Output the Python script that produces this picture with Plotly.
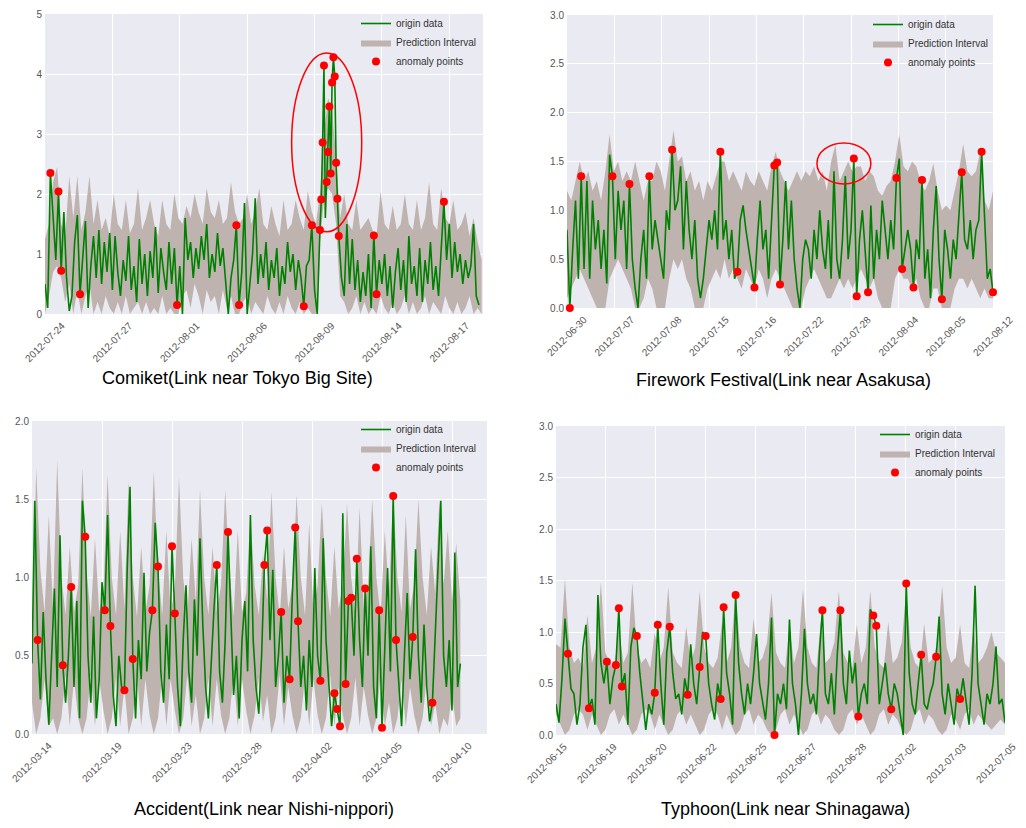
import plotly.graph_objects as go

# ---------------- Panel 1: Comiket ----------------
p1_x = list(range(0, 408, 4)) + list(range(408, 438, 2)) + list(range(440, 648, 4))
p1_y = [
    0.5, 0.1, 2.35, 1.6, 0.9, 2.04, 0.72, 1.7, 0.6, 0.05, 0.3,
    1.2, 1.65, 0.33, 1.0, 1.55, 0.1, 0.8, 1.3, 0.6, 1.4, 0.5, 1.2, 0.7, 1.35, 0.4,
    1.3, 0.7, 0.3, 0.9, 0.55, 1.3, 0.4, 0.8, 0.2, 1.25, 0.5, 1.0, 0.3, 1.05, 0.6, 1.45, 0.35, 1.1, 0.7, 0.4, 1.2, 0.5, 1.1, 0.15, 0.8,
    0.0, 1.6, 0.9, 1.2, 0.6, 1.1, 0.75, 1.3, 0.9, 1.5, 0.6, 1.0, 0.7, 1.35, 0.8, 1.1, 0.5, 0.0, 0.6, 0.9,
    1.48, 0.15, 0.7, 1.85, 0.0, 0.5, 1.0, 1.93,
    0.5, 1.0, 0.6, 1.2, 0.4, 0.9, 0.6, 1.1, 0.3, 0.8, 0.5, 1.2, 0.7, 1.0, 0.4, 0.9, 0.6,
    0.13, 0.8, 0.9, 1.48, 0.4, 0.0,
    1.40, 1.91, 2.86, 4.14, 1.6, 2.2, 2.70, 3.46, 2.34, 3.86, 4.28, 3.96, 2.52, 1.92, 1.30,
    0.6, 0.3, 1.5, 0.5, 1.25, 0.4, 0.9, 0.2, 0.7, 0.3,
    1.0, 0.1, 1.31, 0.33, 0.9, 0.5, 1.0, 0.3, 0.8, 0.1,
    0.7, 1.1, 0.4, 0.9, 0.2, 1.3, 0.5, 0.8, 0.3, 1.1,
    0.2, 0.9, 0.5, 1.2, 0.4, 0.8, 0.3, 1.1, 1.87, 0.9,
    1.5, 0.6, 1.2, 0.7, 1.0, 0.5, 0.9, 0.6, 0.8, 1.5,
    0.3, 0.15,
]
p1_band_x = list(range(0, 649, 6))
p1_upper = [
    1.25, 1.5, 2.2, 2.45, 1.5, 1.3, 2.3, 1.6, 2.3, 1.4, 1.7, 2.3, 1.5, 1.9,
    1.4, 1.6, 1.3, 2.0, 1.5, 1.4, 1.9, 1.35, 1.5, 2.1, 1.4, 1.6, 1.9, 1.5, 1.3, 1.9, 1.5, 1.4, 2.0,
    1.6, 1.5, 1.8, 1.6, 2.0, 1.7, 1.5, 2.1, 1.7, 1.6, 1.9, 1.5, 1.6, 2.2, 1.7,
    1.5, 1.6, 2.0, 1.5, 1.7, 2.1, 1.5, 1.4, 1.8, 1.5, 1.3, 1.9, 1.4, 1.5, 1.9, 1.6, 1.4, 2.05, 1.7, 1.5,
    2.0, 3.0, 3.6, 3.4, 2.6, 1.6,
    2.0, 1.5, 1.4, 1.9, 1.4, 1.5, 1.6, 1.4, 1.3, 2.05, 1.5, 1.4, 1.8, 1.4, 1.5, 2.0, 1.5, 1.4, 1.9, 1.4,
    1.6, 2.2, 1.5, 1.4, 2.1, 1.6, 1.5, 1.9, 1.4, 1.5, 1.7, 1.3, 1.6, 1.2, 0.9,
]
p1_lower = [
    0.0, 0.3, 0.7, 0.8, 0.6, 0.2, 0.5, 0.0, 0.4, 0.0, 0.3, 0.5, 0.0, 0.2,
    0.0, 0.3, 0.1, 0.0, 0.2, 0.0, 0.3, 0.0, 0.1, 0.2, 0.0, 0.2, 0.0, 0.1, 0.0, 0.3, 0.0, 0.1, 0.0,
    0.0, 0.3, 0.4, 0.1, 0.5, 0.3, 0.0, 0.4, 0.2, 0.3, 0.0, 0.4, 0.1, 0.3, 0.0,
    0.0, 0.2, 0.3, 0.0, 0.2, 0.1, 0.0, 0.3, 0.1, 0.0, 0.2, 0.0, 0.3, 0.1, 0.0, 0.2, 0.0, 0.1, 0.0, 0.0,
    1.2, 1.9, 2.1, 2.0, 1.5, 0.3,
    0.2, 0.0, 0.1, 0.3, 0.0, 0.2, 0.0, 0.1, 0.0, 0.3, 0.1, 0.0, 0.2, 0.0, 0.1, 0.3, 0.0, 0.2, 0.0, 0.1,
    0.3, 0.0, 0.2, 0.1, 0.0, 0.3, 0.1, 0.0, 0.2, 0.0, 0.1, 0.3, 0.0, 0.1, 0.0,
]
p1_anom_x = [8, 20, 24, 52, 196, 284, 288, 384, 396, 408, 410, 412, 414, 418, 420, 422, 424,
             426, 428, 430, 432, 434, 436, 488, 492, 592]
p1_anom_y = [2.35, 2.04, 0.72, 0.33, 0.15, 1.48, 0.15, 0.13, 1.48, 1.40, 1.91, 2.86, 4.14, 2.2,
             2.70, 3.46, 2.34, 3.86, 4.28, 3.96, 2.52, 1.92, 1.30, 1.31, 0.33, 1.87]
p1_ticks = ['2012-07-24', '2012-07-27', '2012-08-01', '2012-08-06', '2012-08-09',
            '2012-08-14', '2012-08-17']
p1_title = 'Comiket(Link near Tokyo Big Site)'

# ---------------- Panel 2: Firework Festival ----------------
p2_x = list(range(0, 901, 6))
p2_y = [
    0.8, 0.0, 0.6, 1.1, 0.3, 1.35, 0.4, 1.3, 0.3, 1.1, 0.6, 0.9, 0.4, 0.8, 0.25, 1.57,
    1.35, 0.5, 1.2, 0.8, 1.1, 0.4, 1.27, 0.5, 0.2, 0.0, 0.5, 0.8, 0.3, 1.35,
    0.6, 0.9, 0.7, 0.5, 0.3, 1.0, 0.8, 1.62, 1.0, 1.1, 1.45, 0.6, 1.3, 0.8, 0.5, 0.9, 0.3, 0.1,
    0.3, 0.6, 0.9, 0.7, 1.0, 0.6, 1.60, 0.7, 0.9, 0.5, 0.8, 0.3, 0.37, 0.9, 1.05,
    0.8, 0.6, 0.4, 0.21, 0.7, 1.1, 0.6, 0.8, 0.3, 0.9, 1.46, 1.49, 0.24, 0.7, 1.3, 0.6, 1.1, 0.5, 0.2, 0.0,
    0.5, 0.7, 0.6, 0.3, 0.8, 0.5, 1.0, 0.6, 0.4, 0.9, 0.3, 1.4, 0.5, 0.3, 0.7,
    1.35, 0.5, 0.8, 1.53, 0.12, 0.7, 1.0, 0.6, 0.16, 1.05, 0.3, 0.8,
    0.5, 1.1, 0.8, 0.5, 0.9, 0.6, 1.33, 1.53, 0.40, 0.6, 0.8, 0.6, 0.21, 0.7, 0.5, 1.31, 0.3,
    0.6, 0.1, 0.8, 1.25, 0.5, 0.09, 0.8, 0.6, 0.3, 0.7, 0.5, 0.9, 1.39, 0.7, 0.6, 0.9, 0.5, 0.8,
    0.9, 1.6, 0.9, 0.3, 0.4, 0.16,
]
p2_band_x = list(range(0, 901, 9))
p2_upper = [
    1.2, 1.1, 1.3, 1.5, 1.3, 1.4, 1.2, 1.3, 1.1, 1.4,
    1.78, 1.4, 1.5, 1.3, 1.4, 1.3, 1.5, 1.3, 1.1, 1.3,
    1.3, 1.5, 1.4, 1.2, 1.5, 1.82, 1.5, 1.55, 1.3, 1.4,
    1.2, 1.3, 1.1, 1.3, 1.2, 1.35, 1.5, 1.5, 1.3, 1.4,
    1.3, 1.2, 1.4, 1.3, 1.25, 1.4, 1.3, 1.2, 1.45, 1.6,
    1.4, 1.3, 1.2, 1.3, 1.4, 1.3, 1.4, 1.35, 1.45, 1.3,
    1.4, 1.2, 1.5, 1.67, 1.3, 1.4, 1.5, 1.4, 1.45, 1.45,
    1.3, 1.4, 1.35, 1.2, 1.15, 1.25, 1.3, 1.5, 1.78, 1.45,
    1.4, 1.5, 1.45, 1.3, 1.2, 1.3, 1.48, 1.2, 1.0, 1.05,
    1.0, 1.2, 1.4, 1.68, 1.4, 1.35, 1.4, 1.6, 1.1, 1.0, 1.2,
]
p2_lower = [
    0.1, 0.2, 0.3, 0.4, 0.3, 0.2, 0.1, 0.0, 0.0, 0.0,
    0.3, 0.4, 0.5, 0.4, 0.3, 0.2, 0.0, 0.0, 0.1, 0.3,
    0.2, 0.0, 0.0, 0.0, 0.3, 0.5, 0.4, 0.5, 0.3, 0.2,
    0.0, 0.0, 0.0, 0.2, 0.3, 0.4, 0.3, 0.5, 0.3, 0.4,
    0.3, 0.2, 0.4, 0.3, 0.2, 0.4, 0.3, 0.1, 0.3, 0.4,
    0.3, 0.2, 0.1, 0.0, 0.0, 0.0, 0.2, 0.3, 0.4, 0.3,
    0.2, 0.1, 0.1, 0.2, 0.3, 0.2, 0.3, 0.2, 0.3, 0.4,
    0.3, 0.2, 0.3, 0.1, 0.0, 0.0, 0.0, 0.3, 0.4, 0.3,
    0.3, 0.2, 0.3, 0.1, 0.0, 0.0, 0.2, 0.2, 0.0, 0.0,
    0.0, 0.2, 0.3, 0.3, 0.2, 0.3, 0.2, 0.1, 0.2, 0.1, 0.1,
]
p2_anom_x = [6, 30, 96, 132, 174, 222, 324, 360, 396, 438, 444, 450, 606, 612, 636, 696,
             708, 732, 750, 792, 834, 876, 900]
p2_anom_y = [0.0, 1.35, 1.35, 1.27, 1.35, 1.62, 1.60, 0.37, 0.21, 1.46, 1.49, 0.24, 1.53,
             0.12, 0.16, 1.33, 0.40, 0.21, 1.31, 0.09, 1.39, 1.6, 0.16]
p2_ticks = ['2012-06-30', '2012-07-07', '2012-07-08', '2012-07-15', '2012-07-16',
            '2012-07-22', '2012-07-28', '2012-08-04', '2012-08-05', '2012-08-12']
p2_title = 'Firework Festival(Link near Asakusa)'

# ---------------- Panel 3: Accident ----------------
p3_x = list(range(0, 613, 4))
p3_y = [
    0.45, 1.49, 0.60, 0.22, 0.78, 0.35, 0.06, 0.55, 0.93, 0.30,
    1.27, 0.44, 0.2, 0.5, 0.94, 0.3, 0.85, 0.1, 1.49, 1.26,
    0.5, 0.2, 0.75, 0.1, 0.35, 0.97, 0.79, 1.40, 0.69, 0.25,
    0.05, 0.5, 0.3, 0.28, 1.05, 1.58, 0.48, 0.1, 0.6, 0.35,
    1.03, 0.4, 0.65, 0.79, 1.35, 1.07, 0.4, 0.2, 0.7, 0.35,
    1.20, 0.77, 0.3, 0.05, 0.6, 0.95, 0.4, 0.2, 0.86, 0.5,
    1.25, 0.7, 0.3, 0.1, 0.5, 0.8, 1.08, 0.4, 0.2, 0.6,
    1.29, 0.7, 0.25, 0.5, 0.1, 0.6, 0.85, 0.4, 1.40, 0.6,
    0.3, 0.13, 0.5, 1.08, 1.30, 0.6, 1.05, 0.3, 0.5, 0.78,
    0.2, 0.5, 0.35, 0.9, 1.32, 0.72, 0.3, 0.5, 0.15, 0.6,
    0.3, 1.06, 0.5, 0.34, 1.25, 0.6, 0.3, 0.05, 0.26, 0.16,
    0.05, 1.41, 0.32, 0.85, 0.87, 0.5, 1.12, 0.6, 0.3, 0.93,
    0.5, 1.20, 0.3, 0.1, 0.79, 0.04, 0.6, 1.06, 0.4, 1.52,
    0.6, 0.3, 0.05, 0.5, 0.9, 0.35, 0.62, 1.18, 0.5, 0.2,
    0.7, 0.3, 0.08, 0.20, 0.6, 1.1, 1.49, 0.5, 0.3, 0.6,
    0.15, 1.16, 0.3, 0.45,
]
p3_band_x = list(range(0, 613, 6))
p3_upper = [
    0.60, 1.70, 1.05, 0.78, 1.40, 0.80, 1.75, 1.00, 0.76, 1.20,
    0.78, 0.95, 1.70, 1.05, 0.75, 1.25, 0.78, 0.90, 1.66, 1.00,
    0.76, 1.30, 0.80, 1.62, 1.00, 0.75, 1.20, 0.78, 0.95, 1.68,
    1.05, 0.76, 1.30, 0.78, 0.92, 1.64, 1.00, 0.75, 1.25, 0.85,
    1.56, 1.00, 0.76, 1.20, 0.78, 0.95, 1.56, 1.05, 0.75, 1.30,
    0.78, 0.90, 1.40, 0.95, 0.76, 1.15, 0.85, 1.55, 1.00, 0.75,
    1.20, 0.80, 0.95, 1.53, 1.00, 0.76, 1.35, 0.78, 0.95, 1.48,
    1.00, 0.75, 1.20, 0.80, 0.95, 1.47, 1.00, 0.76, 1.45, 0.80,
    0.95, 1.50, 1.00, 0.75, 1.30, 0.90, 1.53, 1.00, 0.78, 1.40,
    0.80, 0.95, 1.50, 1.00, 0.76, 1.20, 0.90, 1.50, 0.95, 1.30,
    0.85, 1.22, 0.85,
]
p3_lower = [
    0.20, 0.00, 0.10, 0.35, 0.05, 0.10, 0.00, 0.10, 0.38, 0.05,
    0.35, 0.10, 0.00, 0.10, 0.38, 0.05, 0.35, 0.15, 0.00, 0.10,
    0.36, 0.05, 0.30, 0.00, 0.10, 0.38, 0.05, 0.35, 0.12, 0.00,
    0.10, 0.37, 0.05, 0.35, 0.15, 0.00, 0.10, 0.38, 0.05, 0.25,
    0.00, 0.10, 0.36, 0.05, 0.35, 0.12, 0.00, 0.10, 0.38, 0.05,
    0.35, 0.15, 0.00, 0.12, 0.36, 0.08, 0.25, 0.00, 0.10, 0.38,
    0.05, 0.30, 0.12, 0.00, 0.10, 0.36, 0.05, 0.35, 0.12, 0.00,
    0.10, 0.38, 0.05, 0.30, 0.12, 0.00, 0.10, 0.36, 0.05, 0.30,
    0.12, 0.00, 0.10, 0.38, 0.05, 0.20, 0.00, 0.10, 0.35, 0.05,
    0.30, 0.12, 0.00, 0.10, 0.36, 0.05, 0.20, 0.00, 0.10, 0.05,
    0.25, 0.05, 0.10,
]
p3_anom_x = [8, 44, 56, 76, 104, 112, 132, 144, 172, 180, 200, 204, 264, 280, 332, 336, 356,
             368, 376, 380, 412, 432, 436, 440, 448, 452, 456, 464, 476, 496, 500, 516, 520,
             544, 572]
p3_anom_y = [0.60, 0.44, 0.94, 1.26, 0.79, 0.69, 0.28, 0.48, 0.79, 1.07, 1.20, 0.77, 1.08,
             1.29, 1.08, 1.30, 0.78, 0.35, 1.32, 0.72, 0.34, 0.26, 0.16, 0.05, 0.32, 0.85,
             0.87, 1.12, 0.93, 0.79, 0.04, 1.52, 0.60, 0.62, 0.20]
p3_ticks = ['2012-03-14', '2012-03-19', '2012-03-23', '2012-03-28', '2012-04-02',
            '2012-04-05', '2012-04-10']
p3_title = 'Accident(Link near Nishi-nippori)'

# ---------------- Panel 4: Typhoon ----------------
p4_x = list(range(0, 901, 6))
p4_y = [
    0.30, 0.12, 0.55, 1.13, 0.79, 0.45, 0.40, 0.10, 0.30, 0.85,
    1.07, 0.26, 0.35, 0.10, 1.36, 0.70, 0.50, 0.71, 0.30, 0.55,
    0.68, 1.23, 0.47, 0.60, 0.10, 0.85, 1.04, 0.96, 0.60, 0.35,
    0.05, 0.30, 0.20, 0.41, 1.07, 0.50, 0.10, 0.80, 1.05, 0.60,
    0.35, 0.40, 0.20, 0.55, 0.39, 0.88, 0.50, 0.30, 0.66, 1.00,
    0.96, 0.50, 0.30, 0.15, 0.50, 0.35, 1.24, 0.60, 0.40, 0.10,
    1.36, 0.70, 0.40, 0.20, 0.50, 0.30, 0.60, 0.98, 0.50, 0.30,
    0.15, 0.50, 1.14, 0.00, 0.40, 0.30, 0.50, 0.25, 1.12, 0.50,
    0.30, 0.00, 0.40, 1.03, 0.50, 0.30, 0.40, 0.20, 0.80, 1.21,
    0.40, 0.30, 0.60, 0.20, 0.80, 1.21, 0.50, 0.30, 0.82, 0.50,
    0.70, 0.18, 0.40, 0.50, 0.30, 1.22, 1.16, 1.06, 0.30, 0.50,
    0.70, 0.40, 0.25, 0.50, 0.40, 0.20, 0.00, 1.47, 0.60, 0.30,
    0.20, 0.50, 0.78, 0.30, 0.25, 0.40, 0.50, 0.76, 1.15, 0.40,
    0.20, 0.50, 0.30, 0.10, 0.45, 0.35, 0.55, 0.30, 0.10, 0.60,
    1.45, 0.50, 0.30, 0.10, 0.40, 0.30, 0.50, 0.86, 0.30, 0.35,
    0.12,
]
p4_band_x = list(range(0, 901, 9))
p4_upper = [
    0.88, 0.85, 1.52, 0.85, 0.70, 0.75, 0.65, 1.17, 0.70, 0.85,
    1.48, 0.80, 0.70, 0.65, 1.05, 0.70, 0.80, 1.48, 0.85, 0.70,
    0.75, 0.65, 1.00, 0.70, 0.85, 1.44, 0.80, 0.70, 0.65, 1.05,
    0.70, 0.85, 1.40, 0.85, 0.70, 0.65, 0.75, 1.10, 0.70, 0.85,
    1.38, 0.85, 0.70, 0.65, 1.13, 0.70, 0.75, 0.90, 1.38, 0.80,
    0.70, 0.65, 1.05, 0.70, 0.85, 1.42, 0.85, 0.70, 0.65, 1.10,
    0.70, 0.75, 0.90, 1.40, 0.80, 0.70, 0.65, 1.07, 0.70, 0.85,
    1.40, 0.85, 0.70, 0.65, 1.10, 0.70, 0.75, 0.90, 1.40, 0.85,
    0.70, 0.65, 1.08, 0.70, 0.75, 0.90, 1.45, 0.85, 0.70, 0.75,
    1.07, 0.70, 0.65, 1.05, 0.70, 0.75, 0.85, 1.00, 0.80, 0.75,
    0.70,
]
p4_lower = [
    0.20, 0.10, 0.00, 0.05, 0.20, 0.25, 0.20, 0.05, 0.20, 0.10,
    0.00, 0.05, 0.20, 0.25, 0.10, 0.20, 0.10, 0.00, 0.05, 0.20,
    0.25, 0.20, 0.05, 0.20, 0.10, 0.00, 0.05, 0.20, 0.25, 0.10,
    0.20, 0.10, 0.00, 0.05, 0.20, 0.25, 0.20, 0.05, 0.20, 0.10,
    0.00, 0.05, 0.20, 0.25, 0.10, 0.20, 0.15, 0.05, 0.00, 0.05,
    0.20, 0.25, 0.10, 0.20, 0.10, 0.00, 0.05, 0.20, 0.25, 0.10,
    0.20, 0.15, 0.05, 0.00, 0.05, 0.20, 0.25, 0.10, 0.20, 0.10,
    0.00, 0.05, 0.20, 0.25, 0.10, 0.20, 0.15, 0.05, 0.00, 0.05,
    0.20, 0.25, 0.10, 0.20, 0.15, 0.05, 0.00, 0.05, 0.20, 0.15,
    0.05, 0.20, 0.25, 0.10, 0.20, 0.15, 0.10, 0.05, 0.10, 0.15,
    0.10,
]
p4_anom_x = [24, 66, 102, 120, 126, 132, 162, 198, 204, 228, 264, 288, 300, 330, 336, 360,
             438, 534, 570, 606, 636, 642, 672, 702, 732, 762, 810]
p4_anom_y = [0.79, 0.26, 0.71, 0.68, 1.23, 0.47, 0.96, 0.41, 1.07, 1.05, 0.39, 0.66, 0.96,
             0.35, 1.24, 1.36, 0.0, 1.21, 1.21, 0.18, 1.16, 1.06, 0.25, 1.47, 0.78, 0.76, 0.35]
p4_ticks = ['2012-06-15', '2012-06-19', '2012-06-20', '2012-06-22', '2012-06-25',
            '2012-06-27', '2012-06-28', '2012-07-02', '2012-07-03', '2012-07-05']
p4_title = 'Typhoon(Link near Shinagawa)'

# ---------------- styling / layout ----------------
# The page body has an 8px default margin, so the figure is drawn 8px in from
# the window corner; positions below are given in window pixels.
OFF = 8
W, H = 1026 - 2 * OFF, 828 - 2 * OFF
BG = '#EAEAF2'
BAND = '#bfb3b0'
GREEN = '#008000'
FONT = 'Liberation Sans, Arial, sans-serif'


def fx(px):
    return (px - OFF) / W


def fy(py):
    return 1 - (py - OFF) / H


panels = [
    dict(x=p1_x, y=p1_y, bx=p1_band_x, lo=p1_lower, hi=p1_upper, ax=p1_anom_x, ay=p1_anom_y,
         ticks=p1_ticks, title=p1_title, xr=[0, 650], yr=[0, 5], dy=1, shift=17,
         px=(45, 483), py=(14, 314), title_xy=(237, 378), leg_xy=(356, 9),
         ellipse=(366, 470, 1.37, 4.35)),
    dict(x=p2_x, y=p2_y, bx=p2_band_x, lo=p2_lower, hi=p2_upper, ax=p2_anom_x, ay=p2_anom_y,
         ticks=p2_ticks, title=p2_title, xr=[0, 900], yr=[0, 3], dy=0.5, shift=17,
         px=(567, 993), py=(15, 308), title_xy=(783, 380), leg_xy=(868, 10),
         ellipse=(528, 642, 1.27, 1.69)),
    dict(x=p3_x, y=p3_y, bx=p3_band_x, lo=p3_lower, hi=p3_upper, ax=p3_anom_x, ay=p3_anom_y,
         ticks=p3_ticks, title=p3_title, xr=[0, 650], yr=[0, 2], dy=0.5, shift=17,
         px=(32, 487), py=(421, 734), title_xy=(264, 809), leg_xy=(356, 415),
         ellipse=None),
    dict(x=p4_x, y=p4_y, bx=p4_band_x, lo=p4_lower, hi=p4_upper, ax=p4_anom_x, ay=p4_anom_y,
         ticks=p4_ticks, title=p4_title, xr=[0, 900], yr=[0, 3], dy=0.5, shift=8,
         px=(556, 1005), py=(426, 735), title_xy=(785, 809), leg_xy=(875, 420),
         ellipse=None),
]

fig = go.Figure()
layout = dict(
    width=W, height=H, autosize=False,
    margin=dict(l=0, r=0, t=0, b=0, pad=0, autoexpand=False),
    paper_bgcolor='white', plot_bgcolor=BG,
    font=dict(family=FONT, color='#555555'),
    showlegend=True,
    annotations=[], shapes=[],
)

for i, p in enumerate(panels):
    n = '' if i == 0 else str(i + 1)
    xa, ya = 'x' + n, 'y' + n
    leg = 'legend' + n
    # prediction interval polygon
    fig.add_trace(go.Scatter(
        x=p['bx'] + p['bx'][::-1], y=p['hi'] + p['lo'][::-1],
        fill='toself', fillcolor=BAND, line=dict(width=0, color=BAND),
        mode='lines', name='Prediction Interval', xaxis=xa, yaxis=ya,
        legend=leg, legendrank=2, hoverinfo='skip'))
    fig.add_trace(go.Scatter(
        x=p['x'], y=p['y'], mode='lines', line=dict(color=GREEN, width=1.6),
        name='origin data', xaxis=xa, yaxis=ya, legend=leg, legendrank=1))
    fig.add_trace(go.Scatter(
        x=p['ax'], y=p['ay'], mode='markers', marker=dict(color='red', size=8),
        name='anomaly points', xaxis=xa, yaxis=ya, legend=leg, legendrank=3,
        cliponaxis=False))

    x0, x1 = p['px']
    y0, y1 = p['py']
    nt = len(p['ticks'])
    step = 100
    yt = []
    v = 0.0
    while v <= p['yr'][1] + 1e-9:
        yt.append(round(v, 2))
        v += p['dy']
    ytext = [str(int(t)) if p['dy'] == 1 else f'{t:.1f}' for t in yt]

    layout['xaxis' + n] = dict(
        domain=[fx(x0), fx(x1)], anchor=ya, range=p['xr'], automargin=False,
        tickmode='array', tickvals=[k * step for k in range(nt)], ticktext=p['ticks'],
        tickangle=-45, ticklabelshift=p['shift'], ticklabelstandoff=3,
        ticklabeloverflow='allow',
        showgrid=True, gridcolor='white', gridwidth=1, zeroline=False,
        showline=False, ticks='', tickfont=dict(size=10, color='#555555'))
    layout['yaxis' + n] = dict(
        domain=[fy(y1), fy(y0)], anchor=xa, range=p['yr'], automargin=False,
        tickmode='array', tickvals=yt, ticktext=ytext, ticklabelstandoff=2,
        showgrid=True, gridcolor='white', gridwidth=1, zeroline=False,
        showline=False, ticks='', tickfont=dict(size=10, color='#555555'))
    lx, ly = p['leg_xy']
    layout[leg] = dict(
        x=fx(lx), y=fy(ly), xanchor='left', yanchor='top',
        bgcolor='rgba(0,0,0,0)', borderwidth=0,
        font=dict(size=10, color='#333333', family=FONT), itemwidth=30)
    tx, ty = p['title_xy']
    layout['annotations'].append(dict(
        text=p['title'], x=fx(tx), y=fy(ty), xref='paper', yref='paper',
        xanchor='center', yanchor='middle', showarrow=False,
        font=dict(size=18, color='black', family=FONT)))
    if p['ellipse']:
        ex0, ex1, ey0, ey1 = p['ellipse']
        layout['shapes'].append(dict(
            type='circle', xref=xa, yref=ya, x0=ex0, x1=ex1, y0=ey0, y1=ey1,
            line=dict(color='red', width=1.5)))

fig.update_layout(**layout)
fig.write_html("out.html")
